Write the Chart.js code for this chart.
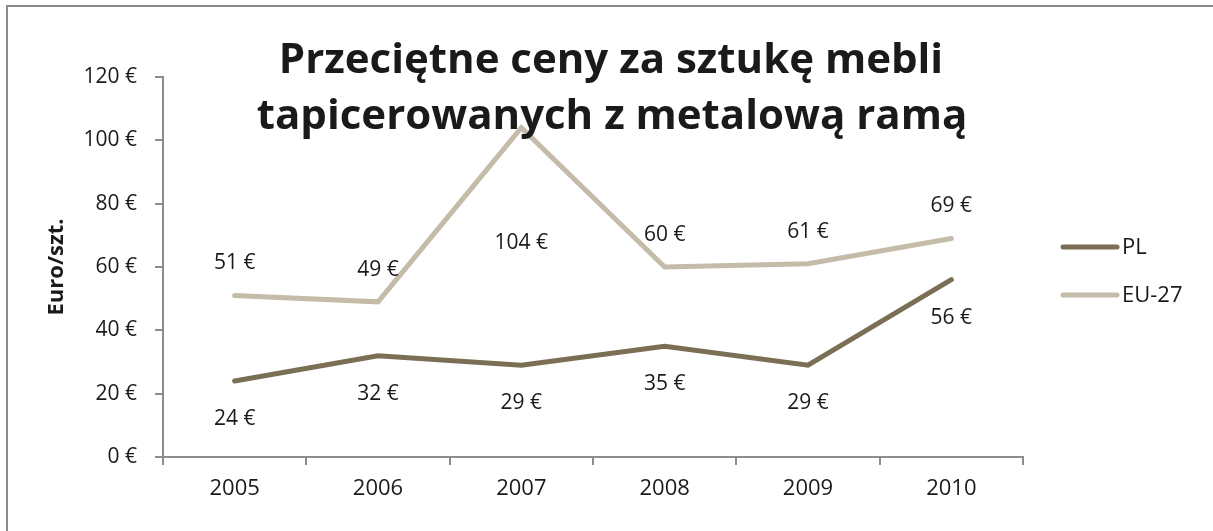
<!DOCTYPE html>
<html>
<head>
<meta charset="utf-8">
<script src="https://cdn.jsdelivr.net/npm/chart.js@4"></script>
<style>
  body { margin: 0; background: #fff; }
  #wykres { display: block; }
</style>
</head>
<body>
<canvas id="wykres" width="1213" height="531"></canvas>
<script>
const lata = ["2005", "2006", "2007", "2008", "2009", "2010"];
const cenyPL = [24, 32, 29, 35, 29, 56];
const cenyEU = [51, 49, 104, 60, 61, 69];
const tytul = ["Przeciętne ceny za sztukę mebli", "tapicerowanych z metalową ramą"];
const tytulOsiY = "Euro/szt.";

const kolorPL = "#7a6f55";
const kolorEU = "#c4bba8";
const kolorTekstu = "#1a1a1a";
const kolorOsi = "#8c8c8c";
const czcionka = "'Open Sans', Lato, sans-serif";

// ramka, tytul, etykiety danych, legenda
const dodatki = {
  id: "dodatki",
  beforeDraw(chart) {
    const ctx = chart.ctx;
    ctx.save();
    ctx.strokeStyle = kolorOsi;
    ctx.lineWidth = 2;
    ctx.beginPath();
    ctx.moveTo(7, 531);
    ctx.lineTo(7, 6);
    ctx.lineTo(1213, 6);
    ctx.stroke();
    ctx.restore();
  },
  afterDatasetsDraw(chart) {
    const ctx = chart.ctx;
    const area = chart.chartArea;
    ctx.save();
    ctx.font = "21px " + czcionka;
    ctx.fillStyle = kolorTekstu;
    ctx.textAlign = "center";
    ctx.textBaseline = "middle";

    chart.data.datasets.forEach((ds, i) => {
      const meta = chart.getDatasetMeta(i);
      meta.data.forEach((pt, j) => {
        let y;
        if (ds.label === "PL") {
          y = pt.y + 38;
        } else {
          y = pt.y - 32;
          if (y < area.top + 60) y = pt.y + 115;
        }
        ctx.fillText(ds.data[j] + " €", pt.x, y);
      });
    });

    // legenda
    chart.data.datasets.forEach((ds, i) => {
      const y = 247 + i * 48;
      ctx.strokeStyle = ds.borderColor;
      ctx.lineWidth = 5;
      ctx.lineCap = "round";
      ctx.beginPath();
      ctx.moveTo(1063, y);
      ctx.lineTo(1117, y);
      ctx.stroke();
      ctx.textAlign = "left";
      ctx.font = "22px " + czcionka;
      ctx.fillText(ds.label, 1122, y + 1);
    });

    // tytul osi Y
    ctx.save();
    ctx.translate(57, 267);
    ctx.rotate(-Math.PI / 2);
    ctx.textAlign = "center";
    ctx.font = "bold 22px " + czcionka;
    ctx.fillText(tytulOsiY, 0, 0);
    ctx.restore();

    // tytul
    ctx.textAlign = "center";
    ctx.textBaseline = "alphabetic";
    ctx.font = "bold 42px " + czcionka;
    ctx.fillText(tytul[0], 611, 73);
    ctx.fillText(tytul[1], 612, 129);
    ctx.restore();
  },
};

new Chart(document.getElementById("wykres"), {
  type: "line",
  data: {
    labels: lata,
    datasets: [
      {
        label: "PL",
        data: cenyPL,
        borderColor: kolorPL,
        backgroundColor: kolorPL,
        borderWidth: 5,
        pointRadius: 0,
        borderCapStyle: "round",
        tension: 0,
      },
      {
        label: "EU-27",
        data: cenyEU,
        borderColor: kolorEU,
        backgroundColor: kolorEU,
        borderWidth: 5,
        pointRadius: 0,
        borderCapStyle: "round",
        tension: 0,
      },
    ],
  },
  options: {
    responsive: false,
    animation: false,
    layout: {
      padding: { top: 77, right: 190, bottom: 0, left: 0 },
    },
    plugins: {
      legend: { display: false },
      title: { display: false },
      tooltip: { enabled: false },
    },
    scales: {
      x: {
        offset: true,
        afterFit(scale) {
          scale.height = 74;
        },
        grid: {
          offset: true,
          drawOnChartArea: false,
          drawTicks: true,
          tickLength: 8,
          color: kolorOsi,
          lineWidth: 2,
        },
        border: { color: kolorOsi, width: 2 },
        ticks: {
          padding: 11,
          color: kolorTekstu,
          font: { family: czcionka, size: 22 },
        },
      },
      y: {
        min: 0,
        max: 120,
        afterFit(scale) {
          scale.width = 163;
        },
        grid: {
          drawOnChartArea: false,
          tickLength: 8,
          color: kolorOsi,
          lineWidth: 2,
        },
        border: { color: kolorOsi, width: 2 },
        ticks: {
          stepSize: 20,
          padding: 18,
          color: kolorTekstu,
          font: { family: czcionka, size: 21 },
          callback: (v) => v + " €",
        },
      },
    },
  },
  plugins: [dodatki],
});
</script>
</body>
</html>
